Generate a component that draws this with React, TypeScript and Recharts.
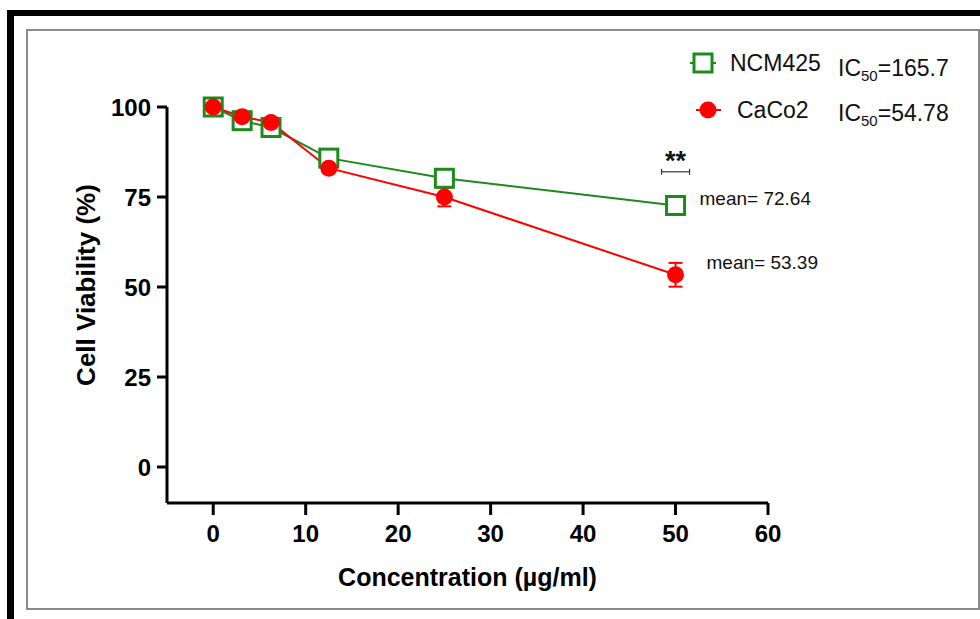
import React from "react";
import { LineChart, Line, XAxis, YAxis, ErrorBar, ReferenceDot } from "recharts";

// Cell viability (%) vs concentration (µg/ml)
const concentrations = [0, 3.125, 6.25, 12.5, 25, 50];
const ncmViability = [100, 96.2, 94.3, 85.8, 80.2, 72.64];
const cacoViability = [100, 97.3, 95.7, 83, 75, 53.39];
const cacoError = [0, 0.8, 0.8, 0.8, 2.6, 3.3];

const xTicks = [0, 10, 20, 30, 40, 50, 60];
const yTicks = [0, 25, 50, 75, 100];
const seriesNames = ["NCM425", "CaCo2"];
const ic50Values = ["165.7", "54.78"];
const meanValues = [72.64, 53.39];
const sigMark = { x: 50, y: 82, text: "**" };

const GREEN = "#1e8a1e";
const RED = "#ff0000";
const FONT = "'Liberation Sans', Arial, sans-serif";

const data = concentrations.map((c, i) => ({
  conc: c,
  ncm: ncmViability[i],
  caco: cacoViability[i],
  cacoErr: cacoError[i],
}));

const SquareDot = (p: any) => (
  <rect
    key={`sq-${p.index}`}
    x={p.cx - 9}
    y={p.cy - 9}
    width={18}
    height={18}
    fill="#fff"
    stroke={GREEN}
    strokeWidth={3}
  />
);

const CircleDot = (p: any) => (
  <circle key={`ci-${p.index}`} cx={p.cx} cy={p.cy} r={8.5} fill={RED} />
);

function LegendBox() {
  return (
    <svg
      width={300}
      height={90}
      style={{ position: "absolute", left: 685, top: 45, fontFamily: FONT, overflow: "visible" }}
    >
      <line x1={5} x2={31} y1={18} y2={18} stroke={GREEN} strokeWidth={2} />
      <rect x={9} y={9} width={18} height={18} fill="#fff" stroke={GREEN} strokeWidth={3} />
      <text x={45} y={26} fontSize={23} fill="#111">{seriesNames[0]}</text>
      <text x={153} y={31} fontSize={23} fill="#111">
        IC<tspan fontSize={15} dy={5}>50</tspan>
        <tspan dy={-5}>={ic50Values[0]}</tspan>
      </text>
      <line x1={11} x2={36} y1={65} y2={65} stroke={RED} strokeWidth={2} />
      <circle cx={23} cy={65} r={8.5} fill={RED} />
      <text x={52} y={73} fontSize={23} fill="#111">{seriesNames[1]}</text>
      <text x={153} y={76} fontSize={23} fill="#111">
        IC<tspan fontSize={15} dy={5}>50</tspan>
        <tspan dy={-5}>={ic50Values[1]}</tspan>
      </text>
    </svg>
  );
}

const SigShape = (p: any) => (
  <g>
    <text x={p.cx} y={p.cy - 2} textAnchor="middle" fontSize={27} fontWeight={700} fill="#111" fontFamily={FONT}>
      {sigMark.text}
    </text>
    <line x1={p.cx - 14} x2={p.cx + 14} y1={p.cy} y2={p.cy} stroke="#333" strokeWidth={1.2} />
    <line x1={p.cx - 14} x2={p.cx - 14} y1={p.cy - 3} y2={p.cy + 3} stroke="#333" strokeWidth={1.2} />
    <line x1={p.cx + 14} x2={p.cx + 14} y1={p.cy - 3} y2={p.cy + 3} stroke="#333" strokeWidth={1.2} />
  </g>
);

const meanShape = (dx: number, dy: number, value: number) => (p: any) => (
  <text x={p.cx + dx} y={p.cy + dy} fontSize={19} fill="#111" fontFamily={FONT} dominantBaseline="central">
    {`mean= ${value}`}
  </text>
);

const tickStyle = { fill: "#000", fontSize: 24, fontWeight: 700, fontFamily: FONT };

export default function App() {
  return (
    <div style={{ position: "absolute", left: 0, top: 0, width: 980, height: 619, background: "#fff" }}>
      <div style={{ position: "absolute", left: 7, top: 10, width: 973, height: 6, background: "#000" }} />
      <div style={{ position: "absolute", left: 7, top: 10, width: 7, height: 609, background: "#000" }} />
      <div
        style={{
          position: "absolute",
          left: 26,
          top: 29,
          width: 950,
          height: 577,
          border: "2px solid #8a8a8a",
        }}
      />
      <LineChart
        width={980}
        height={619}
        data={data}
        margin={{ top: 107, right: 212, bottom: 36, left: 0 }}
        style={{ position: "absolute", left: 0, top: 0 }}
      >
        <XAxis
          dataKey="conc"
          type="number"
          domain={[-5, 60]}
          ticks={xTicks}
          height={80}
          tickSize={12}
          tickMargin={10}
          tick={tickStyle}
          axisLine={{ stroke: "#000", strokeWidth: 3 }}
          tickLine={{ stroke: "#000", strokeWidth: 3 }}
          label={(props: any) => {
            const vb = props.viewBox;
            return (
              <text
                x={vb.x + vb.width / 2}
                y={vb.y + 74}
                textAnchor="middle"
                dominantBaseline="central"
                fontSize={25}
                fontWeight={700}
                fill="#000"
                fontFamily={FONT}
              >
                Concentration (µg/ml)
              </text>
            );
          }}
        />
        <YAxis
          type="number"
          domain={[-10, 100]}
          ticks={yTicks}
          width={167}
          tickSize={10}
          tickMargin={6}
          tick={tickStyle}
          axisLine={{ stroke: "#000", strokeWidth: 3 }}
          tickLine={{ stroke: "#000", strokeWidth: 3 }}
          label={(props: any) => {
            const vb = props.viewBox;
            const cx = vb.x + 86;
            const cy = vb.y + vb.height / 2 - 20;
            return (
              <text
                x={cx}
                y={cy}
                transform={`rotate(-90 ${cx} ${cy})`}
                textAnchor="middle"
                dominantBaseline="central"
                fontSize={26}
                fontWeight={700}
                fill="#000"
                fontFamily={FONT}
              >
                Cell Viability (%)
              </text>
            );
          }}
        />
        <Line
          dataKey="ncm"
          name={seriesNames[0]}
          stroke={GREEN}
          strokeWidth={2}
          dot={SquareDot}
          activeDot={false}
          isAnimationActive={false}
        />
        <Line
          dataKey="caco"
          name={seriesNames[1]}
          stroke={RED}
          strokeWidth={2}
          dot={CircleDot}
          activeDot={false}
          isAnimationActive={false}
        >
          <ErrorBar dataKey="cacoErr" direction="y" width={7} stroke={RED} strokeWidth={2} />
        </Line>
        <ReferenceDot x={sigMark.x} y={sigMark.y} r={0} shape={SigShape} />
        <ReferenceDot x={50} y={meanValues[0]} r={0} shape={meanShape(24, -7, meanValues[0])} />
        <ReferenceDot x={50} y={meanValues[1]} r={0} shape={meanShape(31, -12, meanValues[1])} />
      </LineChart>
      <LegendBox />
    </div>
  );
}
